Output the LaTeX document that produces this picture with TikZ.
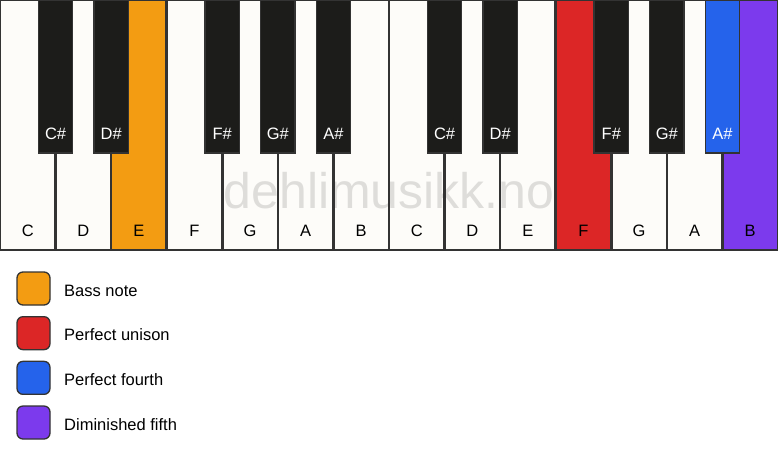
\documentclass[tikz,border=0pt]{standalone}
\usepackage{fontspec}
\setmainfont{Liberation Sans}
\definecolor{keywhite}{HTML}{FDFCF9}
\definecolor{keyblack}{HTML}{1C1C1A}
\definecolor{keyline}{HTML}{333333}
\definecolor{bassc}{HTML}{F39C12}
\definecolor{unisonc}{HTML}{DC2626}
\definecolor{fourthc}{HTML}{2563EB}
\definecolor{dimfifthc}{HTML}{7C3AED}
\begin{document}
\begin{tikzpicture}[x=1pt,y=-1pt,
  wkey/.style={draw=keyline, line width=1.3pt, rectangle, inner sep=0pt, minimum width=55.5714pt, minimum height=250pt},
  bkey/.style={draw=keyline, line width=1.3pt, rectangle, inner sep=0pt, minimum width=34.5pt, minimum height=153pt},
  wlabel/.style={font=\fontsize{16.5}{19}\selectfont, text=black, anchor=base, inner sep=0pt},
  blabel/.style={font=\fontsize{16.5}{19}\selectfont, text=white, anchor=base, inner sep=0pt},
  legbox/.style={draw=keyline, line width=1.3pt, rounded corners=6pt, minimum width=33pt, minimum height=33pt, inner sep=0pt},
  legtext/.style={font=\fontsize{16.5}{19}\selectfont, anchor=base west, inner sep=0pt},
  wmark/.style={font=\fontsize{50}{50}\selectfont, text=black, opacity=0.12, anchor=base, inner sep=0pt}
]
\fill[white] (0,0) rectangle (778,461);
\useasboundingbox (0,0) rectangle (778,461);
% white keys
\foreach \n/\c [count=\i from 0] in {C/keywhite,D/keywhite,E/bassc,F/keywhite,G/keywhite,A/keywhite,B/keywhite,C/keywhite,D/keywhite,E/keywhite,F/unisonc,G/keywhite,A/keywhite,B/dimfifthc} {
  \node[wkey, fill=\c] (w\i) at ({(\i+0.5)*55.5714},125) {};
}
% watermark
\node[wmark] (wm) at (389,208) {dehlimusikk.no};
% white key outlines redrawn over watermark
\foreach \i in {0,...,13} {
  \draw[keyline, line width=1.3pt] (w\i.north west) rectangle (w\i.south east);
}
\foreach \n [count=\i from 0] in {C,D,E,F,G,A,B,C,D,E,F,G,A,B} {
  \node[wlabel] (wl\i) at ({(\i+0.5)*55.5714},236) {\n};
}
% black keys
\foreach \b/\n/\c [count=\j] in {1/C\#/keyblack,2/D\#/keyblack,4/F\#/keyblack,5/G\#/keyblack,6/A\#/keyblack,8/C\#/keyblack,9/D\#/keyblack,11/F\#/keyblack,12/G\#/keyblack,13/A\#/fourthc} {
  \node[bkey, fill=\c] (b\j) at ({\b*55.5714},76.5) {};
  \node[blabel] (bl\j) at ({\b*55.5714},139) {\n};
}
% legend
\foreach \t/\c [count=\k from 0] in {Bass note/bassc,Perfect unison/unisonc,Perfect fourth/fourthc,Diminished fifth/dimfifthc} {
  \node[legbox, fill=\c] (lb\k) at (33.5,{288.5+\k*44.67}) {};
  \node[legtext] (lt\k) at (64,{296+\k*44.67}) {\t};
}
\end{tikzpicture}
\end{document}
